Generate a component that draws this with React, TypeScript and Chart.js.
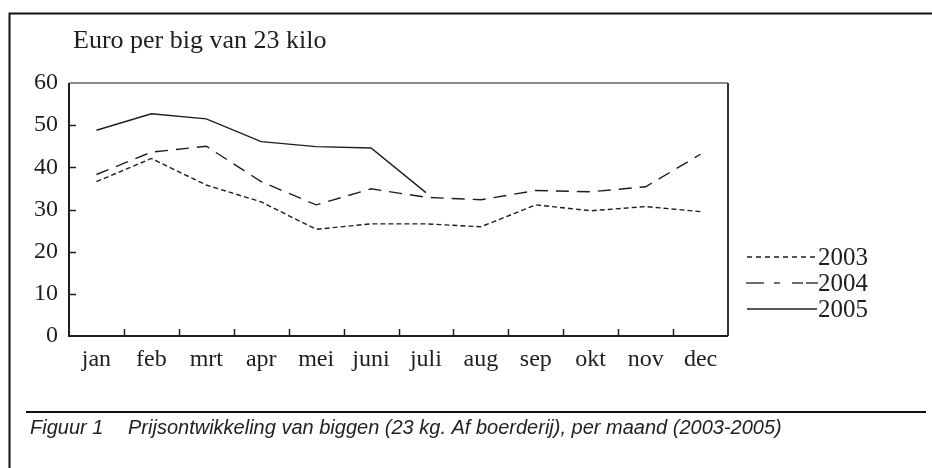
import React, { useEffect, useRef } from "react";
import { Chart, registerables } from "chart.js";

Chart.register(...registerables);

const months = ["jan", "feb", "mrt", "apr", "mei", "juni", "juli", "aug", "sep", "okt", "nov", "dec"];
const v2003 = [36.6, 42.1, 35.8, 31.8, 25.3, 26.6, 26.6, 25.9, 31.1, 29.7, 30.7, 29.5];
const v2004 = [38.3, 43.6, 45.0, 36.6, 31.1, 34.9, 32.9, 32.3, 34.5, 34.2, 35.4, 43.1];
const v2005 = [48.8, 52.7, 51.5, 46.1, 44.9, 44.6, 34.0, null, null, null, null, null];
const seriesNames = ["2003", "2004", "2005"];
const yTitle = "Euro per big van 23 kilo";
const captionLabel = "Figuur 1";
const captionText = "Prijsontwikkeling van biggen (23 kg. Af boerderij), per maand (2003-2005)";

const INK = "#1e1e1e";
const SERIF = "'Liberation Serif', 'Times New Roman', serif";
const SANS = "'Liberation Sans', Arial, sans-serif";

const decor = {
  id: "decor",
  afterDraw(chart: any) {
    const ctx = chart.ctx as CanvasRenderingContext2D;
    const a = chart.chartArea;
    const xs = chart.scales.x;
    const ys = chart.scales.y;
    ctx.save();
    // outer frame
    ctx.strokeStyle = "#111";
    ctx.lineWidth = 2;
    ctx.beginPath();
    ctx.moveTo(9.5, 468);
    ctx.lineTo(9.5, 13.5);
    ctx.lineTo(932, 13.5);
    ctx.stroke();

    // plot box
    ctx.lineWidth = 1.5;
    ctx.strokeStyle = "#666";
    ctx.beginPath();
    ctx.moveTo(a.left, a.top);
    ctx.lineTo(a.right, a.top);
    ctx.stroke();
    ctx.strokeStyle = "#333";
    ctx.lineWidth = 2;
    ctx.beginPath();
    ctx.moveTo(a.right, a.top);
    ctx.lineTo(a.right, a.bottom);
    ctx.stroke();
    ctx.strokeStyle = INK;
    ctx.beginPath();
    ctx.moveTo(a.left, a.top);
    ctx.lineTo(a.left, a.bottom);
    ctx.lineTo(a.right, a.bottom);
    ctx.stroke();

    // inward ticks
    ctx.lineWidth = 1.5;
    ys.ticks.forEach((t: any) => {
      if (t.value <= ys.min || t.value >= ys.max) return;
      const py = Math.round(ys.getPixelForValue(t.value)) + 0.5;
      ctx.beginPath();
      ctx.moveTo(a.left, py);
      ctx.lineTo(a.left + 7, py);
      ctx.stroke();
    });
    for (let i = 0; i < months.length - 1; i++) {
      const px = Math.round((xs.getPixelForValue(i) + xs.getPixelForValue(i + 1)) / 2) + 0.5;
      ctx.beginPath();
      ctx.moveTo(px, a.bottom);
      ctx.lineTo(px, a.bottom - 7);
      ctx.stroke();
    }

    // title
    ctx.fillStyle = INK;
    ctx.font = `26px ${SERIF}`;
    ctx.textAlign = "left";
    ctx.textBaseline = "alphabetic";
    ctx.fillText(yTitle, 73, 48);

    // legend
    const legY = [257, 283, 309];
    const legBase = [265, 291, 317];
    ctx.lineWidth = 1.3;
    ctx.strokeStyle = INK;
    // 2003
    ctx.setLineDash([5, 4]);
    ctx.beginPath();
    ctx.moveTo(747, legY[0]);
    ctx.lineTo(817, legY[0]);
    ctx.stroke();
    ctx.setLineDash([]);
    // 2004
    const segs = [[746, 764], [774, 780], [792, 803], [806, 818]];
    segs.forEach(([s, e]) => {
      ctx.beginPath();
      ctx.moveTo(s, legY[1]);
      ctx.lineTo(e, legY[1]);
      ctx.stroke();
    });
    // 2005
    ctx.beginPath();
    ctx.moveTo(747, legY[2]);
    ctx.lineTo(817, legY[2]);
    ctx.stroke();
    ctx.font = `25px ${SERIF}`;
    seriesNames.forEach((n, i) => ctx.fillText(n, 818, legBase[i]));

    // caption
    ctx.strokeStyle = "#111";
    ctx.lineWidth = 2;
    ctx.beginPath();
    ctx.moveTo(26, 412);
    ctx.lineTo(926, 412);
    ctx.stroke();
    ctx.font = `italic 20px ${SANS}`;
    ctx.fillStyle = "#222";
    ctx.fillText(captionLabel, 30, 434);
    ctx.fillText(captionText, 128, 434);
    ctx.restore();
  },
};

export default function App() {
  const ref = useRef<HTMLCanvasElement | null>(null);
  useEffect(() => {
    if (!ref.current) return;
    const chart = new Chart(ref.current, {
      type: "line",
      data: {
        labels: months,
        datasets: [
          { label: seriesNames[0], data: v2003, borderColor: INK, borderWidth: 1.4, borderDash: [5, 3], pointRadius: 0, tension: 0, fill: false },
          { label: seriesNames[1], data: v2004, borderColor: INK, borderWidth: 1.4, borderDash: [13, 8], pointRadius: 0, tension: 0, fill: false },
          { label: seriesNames[2], data: v2005, borderColor: INK, borderWidth: 1.4, pointRadius: 0, tension: 0, fill: false, spanGaps: false },
        ],
      },
      options: {
        responsive: false,
        animation: false,
        maintainAspectRatio: false,
        layout: { padding: { left: 0, top: 83, right: 204, bottom: 92 } },
        plugins: { legend: { display: false }, title: { display: false }, tooltip: { enabled: false } },
        scales: {
          x: {
            type: "category",
            offset: true,
            grid: { display: false, drawTicks: false },
            border: { display: false },
            ticks: { color: INK, font: { family: SERIF, size: 24 }, padding: 9, maxRotation: 0, autoSkip: false },
            afterFit: (s: any) => { s.height = 40; },
          },
          y: {
            min: 0,
            max: 60,
            grid: { display: false, drawTicks: false },
            border: { display: false },
            ticks: { stepSize: 10, color: INK, font: { family: SERIF, size: 24 }, padding: 11 },
            afterFit: (s: any) => { s.width = 69; },
          },
        },
      },
      plugins: [decor],
    });
    return () => chart.destroy();
  }, []);
  return (
    <div style={{ position: "absolute", left: 0, top: 0, width: 932, height: 468, background: "#fff" }}>
      <canvas ref={ref} width={932} height={468} style={{ display: "block" }} />
    </div>
  );
}
